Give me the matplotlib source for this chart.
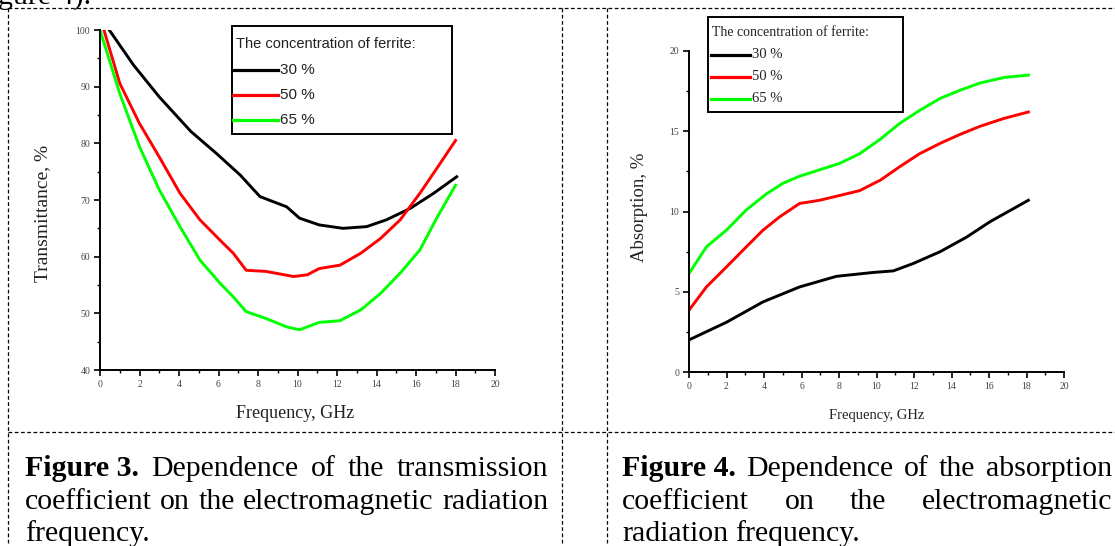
import matplotlib
matplotlib.use("Agg")
import matplotlib.pyplot as plt
from matplotlib.lines import Line2D
from matplotlib.patches import Rectangle

W, H = 1115, 546

# Figure 3: transmittance, %
tr_x_30 = [0.47, 1.7, 3.0, 4.6, 5.9, 7.1, 8.1, 9.45, 10.1, 11.1, 12.3, 13.5, 14.5, 15.7, 16.9, 18.06]
tr_y_30 = [100, 93.8, 88.2, 82.1, 78.2, 74.4, 70.6, 68.8, 66.8, 65.6, 65.0, 65.3, 66.5, 68.5, 71.2, 74.1]
tr_x_50 = [0.2, 1.0, 2.0, 3.0, 4.05, 5.06, 6.08, 6.75, 7.4, 8.4, 9.8, 10.5, 11.1, 12.15, 13.2, 14.2, 15.2, 16.2, 17.0, 18.0]
tr_y_50 = [100, 90.6, 83.5, 77.6, 71.2, 66.5, 62.9, 60.6, 57.6, 57.4, 56.5, 56.8, 57.9, 58.5, 60.6, 63.2, 66.5, 71.2, 75.3, 80.5]
tr_x_65 = [0.0, 1.0, 2.0, 3.0, 4.05, 5.06, 6.08, 6.75, 7.4, 8.4, 9.45, 10.1, 11.1, 12.15, 13.2, 14.2, 15.2, 16.2, 17.0, 18.0]
tr_y_65 = [100, 88.8, 79.4, 71.8, 65.3, 59.4, 55.3, 52.9, 50.3, 49.1, 47.6, 47.1, 48.4, 48.7, 50.6, 53.5, 57.1, 61.2, 66.5, 72.6]

# Figure 4: absorption, %
ab_x_30 = [0.0, 2.0, 3.95, 5.9, 7.86, 9.8, 10.9, 11.96, 13.4, 14.8, 16.05, 18.1]
ab_y_30 = [2.0, 3.1, 4.37, 5.3, 5.96, 6.2, 6.3, 6.76, 7.5, 8.4, 9.36, 10.7]
ab_x_50 = [0.0, 0.93, 2.0, 3.06, 3.95, 4.84, 5.9, 6.97, 8.04, 9.1, 10.2, 11.25, 12.3, 13.4, 14.45, 15.5, 16.8, 18.1]
ab_y_50 = [3.85, 5.3, 6.55, 7.8, 8.84, 9.67, 10.5, 10.7, 11.0, 11.3, 11.95, 12.8, 13.6, 14.25, 14.8, 15.3, 15.8, 16.2]
ab_x_65 = [0.0, 0.93, 2.0, 3.06, 4.13, 5.0, 5.9, 6.97, 8.04, 9.1, 10.2, 11.25, 12.3, 13.4, 14.45, 15.5, 16.8, 18.1]
ab_y_65 = [6.13, 7.8, 8.84, 10.1, 11.1, 11.75, 12.2, 12.6, 13.0, 13.6, 14.5, 15.5, 16.3, 17.05, 17.55, 18.0, 18.35, 18.5]

labels = ["30 %", "50 %", "65 %"]
colors = ["black", "#ff0000", "#00ff00"]
legend_title = "The concentration of ferrite:"

SERIF = "Liberation Serif"

fig = plt.figure(figsize=(W / 100, H / 100), dpi=100)


def fx(x):
    return x / W


def fy(y):
    return 1 - y / H


def add_axes(l, t, r, b):
    return fig.add_axes([fx(l), fy(b), (r - l) / W, (b - t) / H])


def style_axes(ax, ymajor, yminor):
    for s in ["top", "right"]:
        ax.spines[s].set_visible(False)
    for s in ["left", "bottom"]:
        ax.spines[s].set_linewidth(1.4)
    ax.set_xlim(0, 20)
    ax.set_xticks(range(0, 21, 2))
    ax.set_xticks(range(1, 20, 2), minor=True)
    ax.set_yticks(ymajor)
    ax.set_yticks(yminor, minor=True)
    ax.tick_params(which="major", direction="out", length=4, width=1.2,
                   labelsize=7, labelcolor="#444444", pad=3)
    ax.tick_params(which="minor", direction="out", length=2.5, width=1.0)
    for lab in ax.get_xticklabels() + ax.get_yticklabels():
        lab.set_family(SERIF)


# ---- left chart
ax1 = add_axes(100, 30, 495, 370)
for xs, ys, c in zip([tr_x_30, tr_x_50, tr_x_65], [tr_y_30, tr_y_50, tr_y_65], colors):
    ax1.plot(xs, ys, color=c, lw=2.1)
ax1.set_ylim(40, 100)
style_axes(ax1, range(40, 101, 10), range(45, 100, 10))
fig.text(fx(43), fy(213), "Transmittance, %", rotation=90, ha="center", va="center",
         family=SERIF, fontsize=14, color="#222222")
fig.text(fx(295), fy(413), "Frequency, GHz", ha="center", va="center",
         family=SERIF, fontsize=13, color="#222222")

# ---- right chart
ax2 = add_axes(689, 51, 1064, 372)
for xs, ys, c in zip([ab_x_30, ab_x_50, ab_x_65], [ab_y_30, ab_y_50, ab_y_65], colors):
    ax2.plot(xs, ys, color=c, lw=2.1)
ax2.set_ylim(0, 20)
style_axes(ax2, range(0, 21, 5), [2.5, 7.5, 12.5, 17.5])
fig.text(fx(640), fy(207), "Absorption, %", rotation=90, ha="center", va="center",
         family=SERIF, fontsize=13.5, color="#222222")
fig.text(fx(877), fy(415), "Frequency, GHz", ha="center", va="center",
         family=SERIF, fontsize=10.5, color="#222222")


# ---- legends drawn in pixel positions
def legend_box(l, t, r, b, title_y, rows, line_x0, line_x1, text_x, fam, tsize, esize):
    fig.add_artist(Rectangle((fx(l), fy(b)), (r - l) / W, (b - t) / H, fill=False,
                             lw=1.4, ec="black", transform=fig.transFigure))
    fig.text(fx(l + 4), fy(title_y), legend_title, ha="left", va="center",
             family=fam, fontsize=tsize, color="#222222")
    for yy, lab, c in zip(rows, labels, colors):
        fig.add_artist(Line2D([fx(line_x0), fx(line_x1)], [fy(yy), fy(yy)],
                              color=c, lw=2.3, transform=fig.transFigure))
        fig.text(fx(text_x), fy(yy), lab, ha="left", va="center",
                 family=fam, fontsize=esize, color="#222222")


legend_box(232, 26, 452, 134, 44, [70, 95, 120], 233, 278, 280, "Liberation Sans", 10.5, 11)
legend_box(708, 17, 903, 112, 33, [55, 77, 99], 711, 750, 752, SERIF, 10, 10.5)

# ---- table borders (dashed)
dash = dict(color="black", lw=0.9, ls=(0, (3, 2)), transform=fig.transFigure)
fig.add_artist(Line2D([fx(8), fx(W)], [fy(8), fy(8)], **dash))
fig.add_artist(Line2D([fx(8), fx(W)], [fy(432), fy(432)], **dash))
for xv in [8, 562, 607]:
    fig.add_artist(Line2D([fx(xv), fx(xv)], [fy(8), fy(H)], **dash))

# fragment of the previous line of the page
fig.text(fx(-2), fy(4), "gure 4).", ha="left", va="baseline", family=SERIF, fontsize=21.5)

# ---- captions (justified)
CAP = 21.5
renderer = fig.canvas.get_renderer()


def caption_line(tokens, x0, x1, base, last=False):
    texts = []
    for word, weight in tokens:
        texts.append(fig.text(0, fy(base), word, ha="left", va="baseline", family=SERIF,
                              fontsize=CAP, fontweight=weight))
    widths = [t.get_window_extent(renderer).width for t in texts]
    if last or len(texts) == 1:
        gap = CAP * 100 / 72 * 0.25
    else:
        gap = (x1 - x0 - sum(widths)) / (len(texts) - 1)
    x = x0
    for t, w in zip(texts, widths):
        t.set_x(fx(x))
        x += w + gap


def words(s):
    return [(w, "normal") for w in s.split()]


caption_line([("Figure 3.", "bold")] + words("Dependence of the transmission"), 25, 548, 476)
caption_line(words("coefficient on the electromagnetic radiation"), 25, 548, 509)
caption_line(words("frequency."), 25, 548, 541, last=True)
caption_line([("Figure 4.", "bold")] + words("Dependence of the absorption"), 622, 1112, 476)
caption_line(words("coefficient on the electromagnetic"), 622, 1112, 509)
caption_line(words("radiation frequency."), 622, 1112, 541, last=True)

fig.savefig("out.png", dpi=100)
